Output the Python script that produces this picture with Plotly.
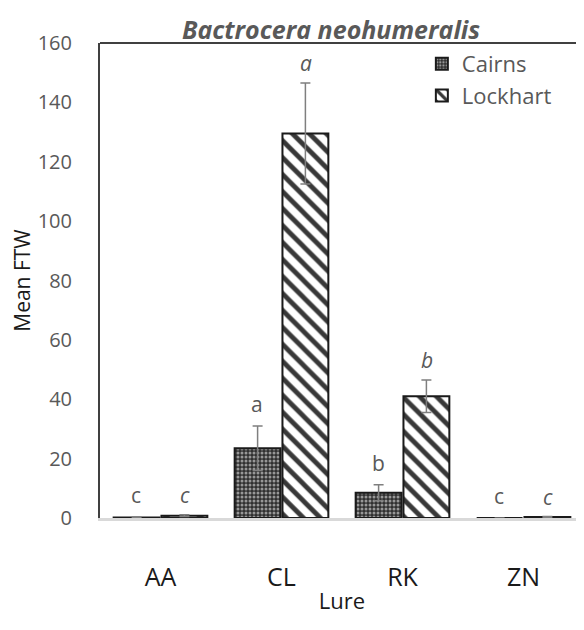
import plotly.graph_objects as go

categories = ["AA", "CL", "RK", "ZN"]
cairns = [0.2, 23.5, 8.5, 0.0]
cairns_err = [0.1, 7.5, 2.7, 0.0]
lockhart = [0.8, 129.5, 41.0, 0.3]
lockhart_err = [0.3, 17.0, 5.5, 0.2]
cairns_letters = ["c", "a", "b", "c"]
lockhart_letters = ["<i>c</i>", "<i>a</i>", "<i>b</i>", "<i>c</i>"]

FONT = "Open Sans"
GRAY = "#595959"
W, H = 576, 622  # page body has an 8px margin

fig = go.Figure()
fig.add_trace(go.Bar(
    name="Cairns", x=categories, y=cairns,
    error_y=dict(type="data", array=cairns_err, visible=True, color="#7f7f7f", thickness=1.5, width=5),
    marker=dict(color="#303030", line=dict(color="#1a1a1a", width=2),
                pattern=dict(shape=".", fgcolor="white", bgcolor="#303030", size=4, solidity=0.45)),
))
fig.add_trace(go.Bar(
    name="Lockhart", x=categories, y=lockhart,
    error_y=dict(type="data", array=lockhart_err, visible=True, color="#7f7f7f", thickness=1.5, width=5),
    marker=dict(color="white", line=dict(color="#1a1a1a", width=2),
                pattern=dict(shape="\\", fgcolor="#383838", bgcolor="white", fgopacity=1,
                             size=12, solidity=0.4)),
))

off = 0.2
for i, c in enumerate(categories):
    fig.add_annotation(x=i - off, y=cairns[i] + cairns_err[i], text=cairns_letters[i],
                       showarrow=False, yanchor="bottom", yshift=6,
                       font=dict(family=FONT, size=21, color=GRAY))
    fig.add_annotation(x=i + off, y=lockhart[i] + lockhart_err[i], text=lockhart_letters[i],
                       showarrow=False, yanchor="bottom", yshift=4,
                       font=dict(family=FONT, size=21, color=GRAY))

# top border line
fig.add_shape(type="line", xref="paper", yref="paper", x0=0, x1=1, y0=1, y1=1,
              line=dict(color="#404040", width=2))

fig.update_layout(
    width=W, height=H,
    margin=dict(l=92, r=0, t=35, b=112),
    plot_bgcolor="white", paper_bgcolor="white",
    barmode="group", bargap=0.21, bargroupgap=0.04,
    font=dict(family=FONT, color=GRAY),
    title=dict(text="<b><i>Bactrocera neohumeralis</i></b>", x=(331 - 8) / W, xanchor="center",
               y=1 - 22 / H, yanchor="middle",
               font=dict(family=FONT, size=25, color=GRAY)),
    legend=dict(x=0.665, y=1.0, xanchor="left", yanchor="top",
                font=dict(family=FONT, size=22, color=GRAY),
                bgcolor="rgba(0,0,0,0)", tracegroupgap=0),
    xaxis=dict(showline=True, linecolor="#d9d9d9", linewidth=3, ticks="",
               ticklabelstandoff=35, tickfont=dict(family=FONT, size=25, color="#1a1a1a"),
               title=dict(text="Lure", font=dict(family=FONT, size=22, color="#1a1a1a"), standoff=2)),
    yaxis=dict(range=[0, 160], dtick=20, showgrid=False, zeroline=False,
               showline=True, linecolor="#404040", linewidth=2, ticks="",
               ticklabelstandoff=22, tickfont=dict(family=FONT, size=20, color=GRAY),
               title=dict(text="Mean FTW", font=dict(family=FONT, size=21, color="#1a1a1a"), standoff=7)),
)

fig.write_html("out.html")
